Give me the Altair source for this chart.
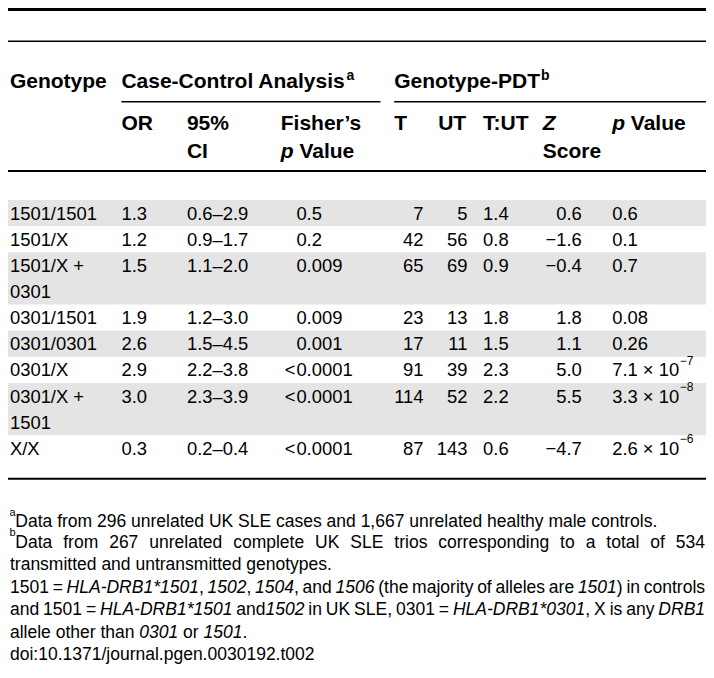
import altair as alt
import pandas as pd

# ---------------- table content ----------------
genotypes = ["1501/1501", "1501/X", "1501/X + 0301", "0301/1501",
             "0301/0301", "0301/X", "0301/X + 1501", "X/X"]
odds_ratio = ["1.3", "1.2", "1.5", "1.9", "2.6", "2.9", "3.0", "0.3"]
ci95 = ["0.6–2.9", "0.9–1.7", "1.1–2.0", "1.2–3.0", "1.5–4.5", "2.2–3.8", "2.3–3.9", "0.2–0.4"]
fisher_p = ["0.5", "0.2", "0.009", "0.009", "0.001", "<0.0001", "<0.0001", "<0.0001"]
t_count = [7, 42, 65, 23, 17, 91, 114, 87]
ut_count = [5, 56, 69, 13, 11, 39, 52, 143]
t_ut = ["1.4", "0.8", "0.9", "1.8", "1.5", "2.3", "2.2", "0.6"]
z_score = ["0.6", "−1.6", "−0.4", "1.8", "1.1", "5.0", "5.5", "−4.7"]
pdt_p = ["0.6", "0.1", "0.7", "0.08", "0.26", "7.1 × 10^−7", "3.3 × 10^−8", "2.6 × 10^−6"]

group_headers = ["Genotype", "Case-Control Analysis", "Genotype-PDT"]
group_marks = ["", "a", "b"]
# column sub-headers (two lines each); _x_ = italic
sub_headers = [("OR", ""), ("95%", "CI"), ("Fisher’s", "_p_ Value"), ("T", ""),
               ("UT", ""), ("T:UT", ""), ("_Z_", "Score"), ("_p_ Value", "")]

footnote_lines = [
    "Data from 296 unrelated UK SLE cases and 1,667 unrelated healthy male controls.",
    "Data from 267 unrelated complete UK SLE trios corresponding to a total of 534",
    "transmitted and untransmitted genotypes.",
    "1501 = _HLA-DRB1*1501_, _1502_, _1504_, and _1506_ (the majority of alleles are _1501_) in controls",
    "and 1501 = _HLA-DRB1*1501_ and_1502_ in UK SLE, 0301 = _HLA-DRB1*0301_, X is any _DRB1_",
    "allele other than _0301_ or _1501_.",
    "doi:10.1371/journal.pgen.0030192.t002",
]
footnote_marks = ["a", "b", "", "", "", "", ""]
footnote_justify = [False, True, False, True, True, False, False]

# ---------------- layout ----------------
FONT = "Liberation Sans"
W, H = 698, 662
REF_W, REF_H = 714, 678
KX = W / REF_W
HDR_SIZE, BODY_SIZE, NOTE_SIZE = 21, 18.4, 17.5

COL_GENO, COL_OR, COL_CI, COL_FISH, COL_FISH_DEC = 2, 116, 183, 279, 295
COL_T, COL_T_R, COL_UT, COL_UT_R, COL_TUT = 395, 425, 440, 470, 486
COL_Z, COL_Z_R, COL_P = 547, 587, 618
SUB_COLS = [COL_OR, COL_CI, COL_FISH, COL_T, COL_UT, COL_TUT, COL_Z, COL_P]
GROUP_X = [COL_GENO, COL_OR, COL_T]
HDR_Y = [82, 125, 154]
ROW_BASE0, ROW_PITCH = 216.7, 26.78
NOTE_Y = [532, 553, 576, 599, 622, 645, 668]

REG = {' ': 278, '%': 889, "'": 191, '(': 333, ')': 333, '*': 389, '+': 584, ',': 278,
       '-': 333, '.': 278, '/': 278, ':': 278, ';': 278, '<': 584, '=': 584, '–': 556,
       '−': 584, '×': 584, '’': 222,
       'A': 667, 'B': 667, 'C': 722, 'D': 722, 'E': 667, 'F': 611, 'G': 778, 'H': 722,
       'I': 278, 'J': 500, 'K': 667, 'L': 556, 'M': 833, 'N': 722, 'O': 778, 'P': 667,
       'Q': 778, 'R': 722, 'S': 667, 'T': 611, 'U': 722, 'V': 667, 'W': 944, 'X': 667,
       'Y': 667, 'Z': 611,
       'a': 556, 'b': 556, 'c': 500, 'd': 556, 'e': 556, 'f': 278, 'g': 556, 'h': 556,
       'i': 222, 'j': 222, 'k': 500, 'l': 222, 'm': 833, 'n': 556, 'o': 556, 'p': 556,
       'q': 556, 'r': 333, 's': 500, 't': 278, 'u': 556, 'v': 500, 'w': 722, 'x': 500,
       'y': 500, 'z': 500}
BOLD = dict(REG)
BOLD.update({"'": 238, ':': 333, '’': 278, 'A': 722, 'B': 722, 'J': 556, 'K': 722, 'L': 611,
             'b': 611, 'c': 556, 'd': 611, 'f': 333, 'g': 611, 'h': 611, 'i': 278, 'j': 278,
             'k': 556, 'l': 278, 'm': 889, 'n': 611, 'o': 611, 'p': 611, 'q': 611, 'r': 389,
             's': 556, 't': 333, 'u': 611, 'v': 556, 'w': 778, 'x': 556, 'y': 556})


def text_w(s, size, bold=False):
    tbl = BOLD if bold else REG
    return sum(tbl.get(ch, 556) for ch in s) * size / 1000.0 / KX


items = []


def add(text, x, y, size, align="left", bold=False, italic=False):
    items.append(dict(text=text, x=x, y=y, align=align, size=size, bold=bold, italic=italic))


def layout_runs(line, x0, y, size, bold=False, justify_to=None):
    runs = [(p, i % 2 == 1) for i, p in enumerate(line.split("_")) if p]
    words = [[]]
    for txt, ital in runs:
        for j, c in enumerate(txt.split(" ")):
            if j > 0:
                words.append([])
            if c:
                words[-1].append((c, ital))
    words = [w for w in words if w]
    widths = [[text_w(c, size, bold) for c, _ in w] for w in words]
    total = sum(sum(ws) for ws in widths)
    gap = text_w(" ", size, bold)
    if justify_to is not None and len(words) > 1:
        gap = (justify_to - x0 - total) / (len(words) - 1)
    x = x0
    for w, ws in zip(words, widths):
        for (c, ital), cw in zip(w, ws):
            add(c, x, y, size, bold=bold, italic=ital)
            x += cw
        x += gap


# group headers with superscripts
for name, mark, gx in zip(group_headers, group_marks, GROUP_X):
    add(name, gx, HDR_Y[0], HDR_SIZE, bold=True)
    if mark:
        add(mark, gx + text_w(name, HDR_SIZE, True) + 1, HDR_Y[0] - 8, 14, bold=True)

# column sub-headers
for (l1, l2), cx in zip(sub_headers, SUB_COLS):
    layout_runs(l1, cx, HDR_Y[1], HDR_SIZE, bold=True)
    if l2:
        layout_runs(l2, cx, HDR_Y[2], HDR_SIZE, bold=True)

# body rows
bands = []
line = 0
for i, g in enumerate(genotypes):
    parts = g.split(" + ")
    glines = [parts[0] + " +", parts[1]] if len(parts) == 2 else [g]
    y = ROW_BASE0 + ROW_PITCH * line
    for k, gl in enumerate(glines):
        add(gl, COL_GENO, ROW_BASE0 + ROW_PITCH * (line + k), BODY_SIZE)
    add(odds_ratio[i], COL_OR, y, BODY_SIZE)
    add(ci95[i], COL_CI, y, BODY_SIZE)
    fp = fisher_p[i]
    if fp.startswith("<"):
        add("<", COL_FISH_DEC - 1, y, BODY_SIZE, align="right")
        fp = fp[1:]
    add(fp, COL_FISH_DEC, y, BODY_SIZE)
    add(str(t_count[i]), COL_T_R, y, BODY_SIZE, align="right")
    add(str(ut_count[i]), COL_UT_R, y, BODY_SIZE, align="right")
    add(t_ut[i], COL_TUT, y, BODY_SIZE)
    add(z_score[i], COL_Z_R, y, BODY_SIZE, align="right")
    pv = pdt_p[i].split("^")
    add(pv[0], COL_P, y, BODY_SIZE)
    if len(pv) == 2:
        add(pv[1], COL_P + text_w(pv[0], BODY_SIZE) + 0.5, y - 12, 12)
    if i % 2 == 0:
        top = ROW_BASE0 - 6.7 - ROW_PITCH / 2 + ROW_PITCH * line
        bands.append(dict(x0=0, x1=REF_W, y0=top, y1=top + ROW_PITCH * len(glines)))
    line += len(glines)

# footnotes
for txt, mark, just, ny in zip(footnote_lines, footnote_marks, footnote_justify, NOTE_Y):
    x0 = 2
    if mark:
        add(mark, 1.5, ny - 12, 11)
        x0 = 7.5
    layout_runs(txt, x0, ny, NOTE_SIZE, justify_to=713 if just else None)

rules = pd.DataFrame([
    dict(x0=0, x1=REF_W, y=1.5, w=3),
    dict(x0=0, x1=REF_W, y=34, w=1.5),
    dict(x0=COL_OR, x1=381, y=96, w=1.3),
    dict(x0=COL_T, x1=REF_W, y=96, w=1.3),
    dict(x0=0, x1=REF_W, y=167, w=2),
    dict(x0=0, x1=REF_W, y=482, w=2),
])

xs = alt.Scale(domain=[0, REF_W], range=[0, W], nice=False, zero=False)
ys = alt.Scale(domain=[0, REF_H], range=[0, H], nice=False, zero=False)

layers = [
    alt.Chart(pd.DataFrame(bands)).mark_rect(color="#e4e4e4").encode(
        x=alt.X("x0:Q", scale=xs, axis=None), x2="x1:Q",
        y=alt.Y("y0:Q", scale=ys, axis=None), y2="y1:Q"),
    alt.Chart(rules).mark_rule(color="#000000").encode(
        x=alt.X("x0:Q", scale=xs, axis=None), x2="x1:Q",
        y=alt.Y("y:Q", scale=ys, axis=None),
        size=alt.Size("w:Q", scale=None, legend=None)),
]

df = pd.DataFrame(items)
for (align, size, bold, italic), sub in df.groupby(["align", "size", "bold", "italic"]):
    layers.append(
        alt.Chart(sub[["text", "x", "y"]]).mark_text(
            align=align, baseline="alphabetic", font=FONT, fontSize=float(size),
            fontWeight="bold" if bold else "normal",
            fontStyle="italic" if italic else "normal", color="#000000"
        ).encode(
            x=alt.X("x:Q", scale=xs, axis=None),
            y=alt.Y("y:Q", scale=ys, axis=None),
            text="text:N",
        )
    )

chart = alt.layer(*layers).properties(
    width=W, height=H, padding=0,
    autosize=alt.AutoSizeParams(type="none"),
).configure_view(stroke=None)

chart.save("out.html", embed_options={"renderer": "svg", "actions": False})
